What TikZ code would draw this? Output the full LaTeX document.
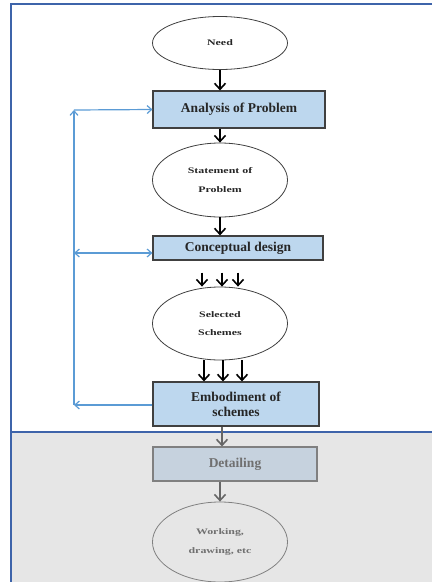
\documentclass[tikz,border=0pt]{standalone}
\usepackage{fontspec}
\setmainfont{Liberation Serif}
\newfontfamily\wideserif[FakeStretch=1.4]{Liberation Serif}
\usepackage{tikz}
\usetikzlibrary{positioning}
\usetikzlibrary{calc}
\usetikzlibrary{arrows.meta}
\usetikzlibrary{shapes.geometric}

\definecolor{boxfill}{RGB}{189,215,238}
\definecolor{boxline}{RGB}{64,64,64}
\definecolor{backline}{RGB}{91,155,213}
\definecolor{framecol}{RGB}{62,100,170}
\definecolor{lowfill}{RGB}{230,230,230}
\definecolor{lowbox}{RGB}{198,210,222}
\definecolor{lowtext}{RGB}{112,112,112}

\begin{document}
\begin{tikzpicture}[x=1pt, y=-1pt,
    stage/.style={draw=boxline, line width=1.1pt, fill=boxfill, inner sep=0pt,
        align=center, font=\bfseries\fontsize{13.5}{15}\selectfont, text=black!85},
    result/.style={ellipse, draw=black!75, line width=0.8pt, fill=white, inner sep=0pt,
        minimum width=135pt, align=center,
        font=\wideserif\bfseries\fontsize{8.5}{18.5}\selectfont, text=black!85},
    flow/.style={line width=1.6pt, -{Straight Barb[length=6pt, width=11pt]}},
    back/.style={backline, line width=1.2pt, -{Straight Barb[length=4.5pt, width=8pt]}}]
    \useasboundingbox (0,0) rectangle (432,582);

    % Frame and lower part
    \fill[lowfill] (11,432) rectangle (432,582);
    \draw[framecol, line width=1.4pt] (432,4) -- (11,4) -- (11,582);
    \draw[framecol, line width=1.4pt] (11,432) -- (432,432);

    % Stages
    \node[result, minimum height=53pt] (need) at (220,43) {Need};
    \node[stage, minimum width=172pt, minimum height=37pt] (ana) at (239,109.5) {Analysis of Problem};
    \node[result, minimum height=74pt] (stat) at (220,180) {Statement of\\Problem};
    \node[stage, minimum width=170pt, minimum height=24pt] (con) at (238,248) {Conceptual design};
    \node[result, minimum height=73pt] (sel) at (220,323.5) {Selected\\Schemes};
    \node[stage, minimum width=166pt, minimum height=44pt] (emb) at (236,404) {Embodiment of\\schemes};
    \node[stage, draw=black!50, fill=lowbox, text=lowtext, minimum width=164pt, minimum height=34pt] (det) at (235,464) {Detailing};
    \node[result, draw=black!50, fill=lowfill, text=lowtext, minimum height=80pt] (work) at (220,542) {Working,\\drawing, etc};

    % Main flow
    \draw[flow] (need.south) -- (need.south |- ana.north);
    \draw[flow] (ana.south -| stat.north) -- (stat.north);
    \draw[flow] (stat.south) -- (stat.south |- con.north);
    \foreach \dx in {-18,2,18}
    {
    \draw[flow] ([xshift=\dx pt]sel.north) ++(0,-14) -- ([xshift=\dx pt]sel.north);
    }
    \foreach \dx in {-16,3,22}
    {
    \draw[flow] ([xshift=\dx pt]sel.south) -- ([xshift=\dx pt]sel.south |- emb.north);
    }
    \draw[flow, black!60] (emb.south -| 222,0) -- (det.north -| 222,0);
    \draw[flow, black!60] (det.south -| work.north) -- (work.north);

    % Feedback lines
    \coordinate (fbtop) at (74,110);
    \coordinate (fbbot) at (74,405);
    \draw[back] ([yshift=-1pt]emb.west) -- (fbbot);
    \draw[back] (fbbot) -- (fbtop);
    \draw[back] (fbtop) -- (ana.west);
    \draw[back, {Straight Barb[length=4.5pt, width=8pt]}-{Straight Barb[length=4.5pt, width=8pt]}]
        ([yshift=-5pt]con.west -| fbtop) -- ([yshift=-5pt]con.west);
\end{tikzpicture}
\end{document}
